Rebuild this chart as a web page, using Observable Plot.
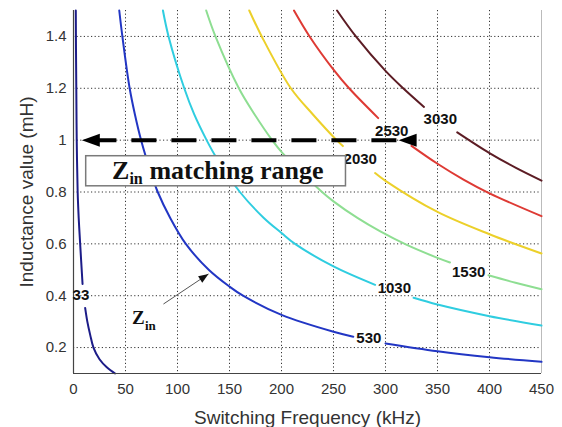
<!DOCTYPE html>
<html><head><meta charset="utf-8">
<script src="https://cdn.jsdelivr.net/npm/d3@7"></script>
<script src="https://cdn.jsdelivr.net/npm/@observablehq/plot@0.6"></script>
<style>html,body{margin:0;padding:0;background:#fff;}</style>
</head><body><div id="chart"></div>
<script>
// ---- tick labels ----
const xTicks = [0, 50, 100, 150, 200, 250, 300, 350, 400, 450];
const yTicks = [0.2, 0.4, 0.6, 0.8, 1.0, 1.2, 1.4];

// ---- contour levels (Zin) ----
const levels = ["33", "530", "1030", "1530", "2030", "2530", "3030"];
const levelColors = ["#1c1c88", "#2236c4", "#2fcde0", "#8ede92", "#ecd02a", "#de3a34", "#5c1c24"];

// ---- contour points (null = gap for the inline label) ----
const freq33 = [2.2, 2.4, 2.7, 3.1, 4.0, 5.0, 6.4, 8.7, null, 11.2, 13.3, 16, 19.2, 25, 32, 40];
const ind33  = [1.5, 1.35, 1.2, 1.0, 0.8, 0.7, 0.6, 0.445, null, 0.353, 0.3, 0.25, 0.2, 0.155, 0.124, 0.1];

const freq530 = [44, 47, 54, 59, 65, 74, 81, 93, 108, 130, 150, 163, 200, 250, 269, null, 300, 350, 400, 450];
const ind530  = [1.5, 1.4, 1.2, 1.1, 1.0, 0.88, 0.8, 0.7, 0.6, 0.5, 0.435, 0.4, 0.326, 0.261, 0.242, null, 0.216, 0.186, 0.163, 0.145];

const freq1030 = [86, 91.4, 106.5, 116, 128, 137, 160, 183, 200, 213, 250, 290, null, 327, 350, 400, 450];
const ind1030  = [1.5, 1.4, 1.2, 1.1, 1.0, 0.935, 0.8, 0.7, 0.642, 0.6, 0.513, 0.442, null, 0.392, 0.366, 0.321, 0.285];

const freq1530 = [127.6, 136.5, 159, 174, 191, 201, 239, 250, 273, 295, 320, 350, 362, null, 399, 425, 450];
const ind1530  = [1.5, 1.4, 1.2, 1.1, 1.0, 0.95, 0.8, 0.764, 0.7, 0.648, 0.597, 0.546, 0.528, null, 0.479, 0.45, 0.425];

const freq2030 = [169, 181, 209, 230, 253, 259, null, 290, 300, 350, 400, 450];
const ind2030  = [1.5, 1.4, 1.2, 1.1, 1.0, 0.977, null, 0.873, 0.843, 0.723, 0.637, 0.563];

const freq2530 = [212, 227, 250, 265, 293, null, 325, 350, 375, 400, 450];
const ind2530  = [1.5, 1.4, 1.272, 1.2, 1.085, null, 0.978, 0.909, 0.848, 0.795, 0.707];

const freq3030 = [253.4, 271.5, 300, 317, 337, null, 369, 400, 425, 450];
const ind3030  = [1.5, 1.4, 1.267, 1.2, 1.128, null, 1.03, 0.95, 0.894, 0.844];

// ---- inline contour label positions ----
const labelFreq = [7.1, 284, 308.5, 380, 275.7, 306, 352.7];
const labelInd  = [0.401, 0.237, 0.43, 0.49, 0.925, 1.034, 1.079];

// ---- annotations ----
const rangeLevel = 1.0;                 // dashed arrow at L = 1 mH
const rangeDash = [17.7, 312];          // dashed segment (kHz)
const rangeHeads = [8, 312.6];          // left-pointing arrowhead tips (kHz)
const boxFreq = [12.2, 262];            // "Zin matching range" box
const boxInd = [0.822, 0.938];
const boxTextAt = [36.9, 0.849];
const zinTextAt = [56.2, 0.29];
const zinArrowFrom = [86.5, 0.368];
const zinArrowTo = [129.8, 0.484];

// ---- build table ----
const series = [
  [freq33, ind33], [freq530, ind530], [freq1030, ind1030], [freq1530, ind1530],
  [freq2030, ind2030], [freq2530, ind2530], [freq3030, ind3030]
];
const rows = [];
series.forEach(([fs, ls], i) => fs.forEach((f, j) => rows.push({f, L: ls[j], level: levels[i]})));
const labelRows = levels.map((t, i) => ({f: labelFreq[i], L: labelInd[i], text: t}));

const headLeft = {draw(ctx) { ctx.moveTo(0, 0); ctx.lineTo(18, -6.5); ctx.lineTo(18, 6.5); ctx.closePath(); }};
const headSmall = {draw(ctx) { ctx.moveTo(0, 0); ctx.lineTo(-10, -3.8); ctx.lineTo(-10, 3.8); ctx.closePath(); }};

const sans = "'Liberation Sans', Arial, sans-serif";
const serif = "'Liberation Serif', 'Times New Roman', serif";

const chart = Plot.plot({
  width: 562, height: 427,
  marginLeft: 73, marginRight: 21, marginTop: 10, marginBottom: 54,
  style: {fontFamily: sans, fontSize: "15px", color: "#333", background: "#fff"},
  x: {domain: [0, 450], ticks: xTicks, tickSize: 0, tickPadding: 10, label: null},
  y: {domain: [0.1, 1.5], ticks: yTicks, tickSize: 0, tickPadding: 7, label: null,
      tickFormat: d => String(Math.round(d * 10) / 10)},
  color: {domain: levels, range: levelColors},
  marks: [
    Plot.ruleX(xTicks.slice(1, -1), {stroke: "#333", strokeDasharray: "1.2,2.4", strokeWidth: 1}),
    Plot.ruleY(yTicks, {stroke: "#333", strokeDasharray: "1.2,2.4", strokeWidth: 1}),
    Plot.ruleX([450], {stroke: "#bbb"}),
    Plot.line(rows, {x: "f", y: "L", z: "level", stroke: "level", strokeWidth: 2, curve: "catmull-rom"}),
    Plot.ruleX([0], {stroke: "#444", strokeWidth: 1.2}),
    Plot.ruleY([0.1], {stroke: "#444", strokeWidth: 1.2}),
    Plot.text(labelRows, {x: "f", y: "L", text: "text", fontWeight: "bold", fontSize: 15, fill: "#111"}),
    Plot.rect([0], {x1: boxFreq[0], x2: boxFreq[1], y1: boxInd[0], y2: boxInd[1], fill: "white", stroke: "#7a7a7a", strokeWidth: 1.5}),
    Plot.text(["Z"], {x: boxTextAt[0], y: boxTextAt[1], text: d => d, textAnchor: "start", lineAnchor: "bottom", fontFamily: serif, fontWeight: "bold", fontSize: 26, fill: "#111"}),
    Plot.text(["in"], {x: boxTextAt[0], y: boxTextAt[1], text: d => d, textAnchor: "start", lineAnchor: "bottom", dx: 17.5, dy: 5, fontFamily: serif, fontWeight: "bold", fontSize: 16, fill: "#111"}),
    Plot.text(["matching range"], {x: boxTextAt[0], y: boxTextAt[1], text: d => d, textAnchor: "start", lineAnchor: "bottom", dx: 37.5, fontFamily: serif, fontWeight: "bold", fontSize: 26, fill: "#111"}),
    Plot.ruleY([rangeLevel], {x1: rangeDash[0], x2: rangeDash[1], stroke: "#000", strokeWidth: 4, strokeDasharray: "25,15"}),
    Plot.dot(rangeHeads, {x: d => d, y: rangeLevel, symbol: headLeft, fill: "#000", stroke: null, r: 5}),
    Plot.link([0], {x1: zinArrowFrom[0], y1: zinArrowFrom[1], x2: zinArrowTo[0], y2: zinArrowTo[1], stroke: "#555", strokeWidth: 1}),
    Plot.dot([0], {x: zinArrowTo[0], y: zinArrowTo[1], symbol: headSmall, rotate: -33.7, fill: "#111", stroke: null, r: 5}),
    Plot.text(["Z"], {x: zinTextAt[0], y: zinTextAt[1], text: d => d, textAnchor: "start", lineAnchor: "bottom", fontFamily: serif, fontWeight: "bold", fontSize: 19, fill: "#111"}),
    Plot.text(["in"], {x: zinTextAt[0], y: zinTextAt[1], text: d => d, textAnchor: "start", lineAnchor: "bottom", dx: 13, dy: 6, fontFamily: serif, fontWeight: "bold", fontSize: 13, fill: "#111"}),
    Plot.text(["Switching Frequency (kHz)"], {frameAnchor: "bottom", text: d => d, textAnchor: "middle", lineAnchor: "bottom", dy: 50, fontSize: 19, fill: "#333"}),
    Plot.text(["Inductance value (mH)"], {frameAnchor: "left", text: d => d, textAnchor: "middle", lineAnchor: "bottom", rotate: -90, dx: -41, fontSize: 19, fill: "#333"})
  ]
});
document.getElementById("chart").appendChild(chart);
</script>
</body></html>
